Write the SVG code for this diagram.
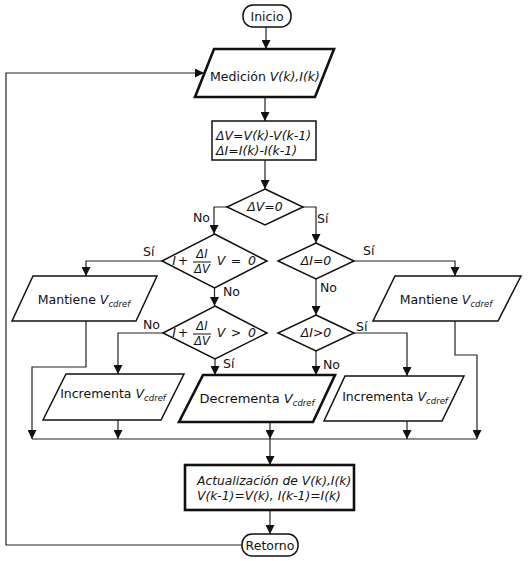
<svg xmlns="http://www.w3.org/2000/svg" width="530" height="561" viewBox="0 0 530 561">
<style>
text{font-family:"DejaVu Sans","Liberation Sans",sans-serif;font-size:12.5px;fill:#111}
.i{font-style:italic}
.m{text-anchor:middle}
.lbl{font-size:12.5px}
.sub{font-size:8.5px;font-style:italic}
.sh{fill:#fff;stroke:#111;stroke-width:1.5}
.bold{fill:#fff;stroke:#111;stroke-width:2.6}
.c{fill:none;stroke:#222;stroke-width:1.2}
.fr{stroke:#111;stroke-width:1}
</style>
<defs>
<marker id="a" viewBox="0 0 10 10" refX="10" refY="5" markerWidth="9" markerHeight="9" markerUnits="userSpaceOnUse" orient="auto">
<path d="M0,0 L10,5 L0,10 z" fill="#111"/>
</marker>
</defs>
<rect width="530" height="561" fill="#fff"/>

<g id="connectors">
<path class="c" d="M266,27 V49" marker-end="url(#a)"/>
<path class="c" d="M265,97 V121" marker-end="url(#a)"/>
<path class="c" d="M265,160 V189" marker-end="url(#a)"/>
<path class="c" d="M227,207 H214 V234" marker-end="url(#a)"/>
<path class="c" d="M303,207 H316 V243" marker-end="url(#a)"/>
<path class="c" d="M162,261 H86 V276" marker-end="url(#a)"/>
<path class="c" d="M214.5,288 V306" marker-end="url(#a)"/>
<path class="c" d="M163,333 H118 V374" marker-end="url(#a)"/>
<path class="c" d="M215,358 V375" marker-end="url(#a)"/>
<path class="c" d="M354,261 H455 V276" marker-end="url(#a)"/>
<path class="c" d="M316,279 V315" marker-end="url(#a)"/>
<path class="c" d="M354,333 H407 V376" marker-end="url(#a)"/>
<path class="c" d="M316,351 V375" marker-end="url(#a)"/>
<path class="c" d="M86,321 V367 H32 V439" marker-end="url(#a)"/>
<path class="c" d="M118,420 V439" marker-end="url(#a)"/>
<path class="c" d="M270,422 V439" marker-end="url(#a)"/>
<path class="c" d="M407,421 V439" marker-end="url(#a)"/>
<path class="c" d="M455,321 V355 H477 V439" marker-end="url(#a)"/>
<path class="c" d="M32,439 H477"/>
<path class="c" d="M270,439 V465" marker-end="url(#a)"/>
<path class="c" d="M270,510 V534" marker-end="url(#a)"/>
<path class="c" d="M242,545 H6 V73 H204" marker-end="url(#a)"/>
<text x="193" y="222">No</text>
<text x="317" y="223">Sí</text>
<text x="143" y="256">Sí</text>
<text x="223" y="296">No</text>
<text x="143" y="329">No</text>
<text x="223" y="368">Sí</text>
<text x="363" y="255">Sí</text>
<text x="320" y="292">No</text>
<text x="356" y="331">Sí</text>
<text x="323" y="369">No</text>
</g>

<g id="inicio">
<rect class="sh" x="243" y="5" width="48" height="22" rx="10"/>
<text class="m" x="267" y="21">Inicio</text>
</g>

<g id="medicion">
<polygon class="bold" points="214,49 334,49 315,97 195,97"/>
<text class="m" x="265" y="81">Medición <tspan class="i">V(k),I(k)</tspan></text>
</g>

<g id="delta">
<rect class="sh" x="212" y="121" width="104" height="39"/>
<text class="i" x="216" y="140">ΔV=V(k)-V(k-1)</text>
<text class="i" x="216" y="155">ΔI=I(k)-I(k-1)</text>
</g>

<g id="d1">
<polygon class="sh" points="265,189 303,207 265,225 227,207"/>
<text class="m i" x="265" y="211">ΔV=0</text>
</g>

<g id="d2">
<polygon class="sh" points="214.5,234 267,261 214.5,288 162,261"/>
<text class="m i" x="174" y="265">I</text>
<text class="m" x="183" y="265">+</text>
<text class="m i" x="202" y="258" style="font-size:11.5px">ΔI</text>
<line class="fr" x1="193" y1="262" x2="211" y2="262"/>
<text class="m i" x="202" y="273" style="font-size:11.5px">ΔV</text>
<text class="m i" x="221" y="265">V</text>
<text class="m" x="236" y="265">=</text>
<text class="m i" x="252" y="265">0</text>
</g>

<g id="d3">
<polygon class="sh" points="215,306 267,333 215,359 163,333"/>
<text class="m i" x="174" y="337">I</text>
<text class="m" x="183" y="337">+</text>
<text class="m i" x="202" y="330" style="font-size:11.5px">ΔI</text>
<line class="fr" x1="193" y1="334" x2="211" y2="334"/>
<text class="m i" x="202" y="345" style="font-size:11.5px">ΔV</text>
<text class="m i" x="221" y="337">V</text>
<text class="m" x="236" y="337">&gt;</text>
<text class="m i" x="252" y="337">0</text>
</g>

<g id="d4">
<polygon class="sh" points="316,243 354,261 316,279 278,261"/>
<text class="m i" x="316" y="265">ΔI=0</text>
</g>

<g id="d5">
<polygon class="sh" points="316,315 354,333 316,351 278,333"/>
<text class="m i" x="316" y="337">ΔI&gt;0</text>
</g>

<g id="mantiene-izq">
<polygon class="sh" points="33,276 157,276 136,321 12,321"/>
<text class="m" x="84" y="304">Mantiene <tspan class="i">V</tspan><tspan class="sub" dy="3">cdref</tspan></text>
</g>

<g id="incrementa-izq">
<polygon class="sh" points="66,374 184,374 161,420 43,420"/>
<text class="m" x="113" y="398">Incrementa <tspan class="i">V</tspan><tspan class="sub" dy="3">cdref</tspan></text>
</g>

<g id="decrementa">
<polygon class="bold" points="203,375 335,375 313,422 179,422"/>
<text class="m" x="257" y="403" style="font-size:13px">Decrementa <tspan class="i">V</tspan><tspan class="sub" dy="3">cdref</tspan></text>
</g>

<g id="incrementa-der">
<polygon class="sh" points="345,376 464,376 442,421 324,421"/>
<text class="m" x="395" y="401">Incrementa <tspan class="i">V</tspan><tspan class="sub" dy="3">cdref</tspan></text>
</g>

<g id="mantiene-der">
<polygon class="sh" points="395,276 521,276 498,321 373,321"/>
<text class="m" x="446" y="304">Mantiene <tspan class="i">V</tspan><tspan class="sub" dy="3">cdref</tspan></text>
</g>

<g id="actualizacion">
<rect class="bold" x="185" y="465" width="169" height="45"/>
<text class="i" x="197" y="485" style="font-size:12.3px">Actualización de V(k),I(k)</text>
<text class="i" x="197" y="500" style="font-size:12.3px">V(k-1)=V(k), I(k-1)=I(k)</text>
</g>

<g id="retorno">
<rect class="sh" x="242" y="534" width="56" height="22" rx="10"/>
<text class="m" x="270" y="550">Retorno</text>
</g>
</svg>
